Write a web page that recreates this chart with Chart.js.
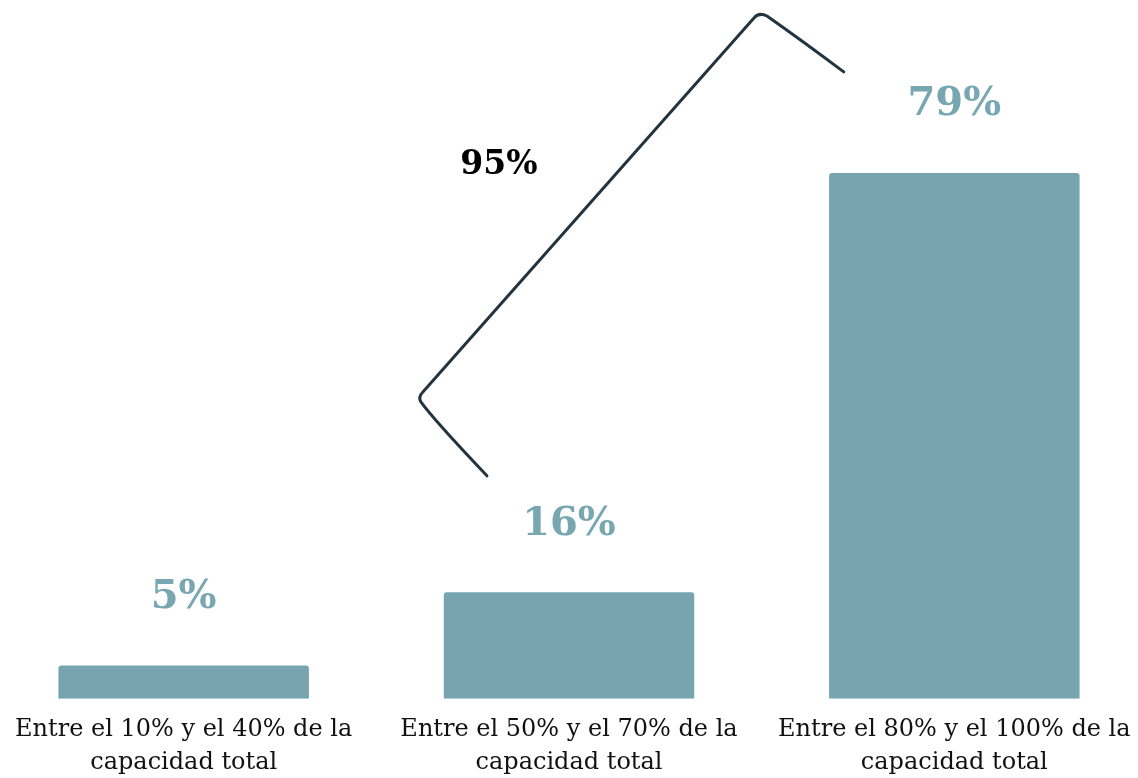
<!DOCTYPE html>
<html>
<head>
<meta charset="utf-8">
<script src="https://cdn.jsdelivr.net/npm/chart.js@4"></script>
<style>
  html, body { margin: 0; padding: 0; background: #fff; overflow: hidden; }
  #wrap { position: absolute; left: -9px; top: 0; width: 1156px; height: 785px; }
</style>
</head>
<body>
<div id="wrap"><canvas id="capChart"></canvas></div>
<script>
// Data
const categories = [
    ['Entre el 10% y el 40% de la', 'capacidad total'],
    ['Entre el 50% y el 70% de la', 'capacidad total'],
    ['Entre el 80% y el 100% de la', 'capacidad total']
];
const shares = [5, 16, 79];
const groupLabel = '95%';
// bracket path in data units: [category index, value]
const bracketPts = [[0.787, 33.5], [0.613, 45.2], [1.493, 102.9], [1.713, 94.2]];
const groupLabelPos = [0.818, 80.2];

const barColor = '#77a4af';
const serif = "'DejaVu Serif', 'Liberation Serif', serif";

// Value labels above bars
const valueLabels = {
    id: 'valueLabels',
    afterDatasetsDraw(chart) {
        const ctx = chart.ctx;
        const meta = chart.getDatasetMeta(0);
        ctx.save();
        ctx.font = 'bold 40px ' + serif;
        ctx.fillStyle = '#78a7b2';
        ctx.textAlign = 'center';
        ctx.textBaseline = 'middle';
        meta.data.forEach((bar, i) => {
            ctx.fillText(shares[i] + '%', bar.x, bar.y - 68);
        });
        ctx.restore();
    }
};

// Bracket grouping the two upper categories
const bracket = {
    id: 'bracket',
    afterDatasetsDraw(chart) {
        const ctx = chart.ctx;
        const xs = chart.scales.x, ys = chart.scales.y;
        const px = (v) => {
            const a = xs.getPixelForValue(0), b = xs.getPixelForValue(1);
            return a + (b - a) * v;
        };
        const p = bracketPts.map(([c, v]) => [px(c), ys.getPixelForValue(v)]);
        ctx.save();
        ctx.strokeStyle = '#22343f';
        ctx.lineWidth = 3;
        ctx.lineCap = 'round';
        ctx.lineJoin = 'round';
        ctx.beginPath();
        ctx.moveTo(p[0][0], p[0][1]);
        ctx.quadraticCurveTo(p[1][0] + 14, p[1][1] + 22, p[1][0] + 1, p[1][1] + 4);
        ctx.quadraticCurveTo(p[1][0] - 2, p[1][1] - 1, p[1][0] + 3, p[1][1] - 6);
        ctx.lineTo(p[2][0] - 5, p[2][1] + 4);
        ctx.quadraticCurveTo(p[2][0], p[2][1] - 2, p[2][0] + 8, p[2][1] + 2);
        ctx.quadraticCurveTo(p[3][0] - 40, p[3][1] - 30, p[3][0], p[3][1]);
        ctx.stroke();

        ctx.font = 'bold 33px ' + serif;
        ctx.fillStyle = '#000';
        ctx.textAlign = 'center';
        ctx.textBaseline = 'middle';
        ctx.fillText(groupLabel, px(groupLabelPos[0]), ys.getPixelForValue(groupLabelPos[1]));
        ctx.restore();
    }
};

new Chart(document.getElementById('capChart').getContext('2d'), {
    type: 'bar',
    data: {
        labels: categories,
        datasets: [{
            data: shares,
            backgroundColor: barColor,
            borderRadius: 3,
            borderWidth: 0,
            barPercentage: 0.65,
            categoryPercentage: 1.0
        }]
    },
    options: {
        responsive: true,
        maintainAspectRatio: false,
        animation: false,
        layout: { padding: { top: 0, bottom: 0, left: 0, right: 0 } },
        plugins: {
            legend: { display: false },
            tooltip: { enabled: false }
        },
        scales: {
            y: {
                display: false,
                min: 0,
                max: 105
            },
            x: {
                border: { display: false },
                grid: { display: false },
                ticks: {
                    color: '#111',
                    padding: 6,
                    maxRotation: 0,
                    autoSkip: false,
                    font: { family: serif, size: 24, lineHeight: 1.38 }
                }
            }
        }
    },
    plugins: [valueLabels, bracket]
});
</script>
</body>
</html>
